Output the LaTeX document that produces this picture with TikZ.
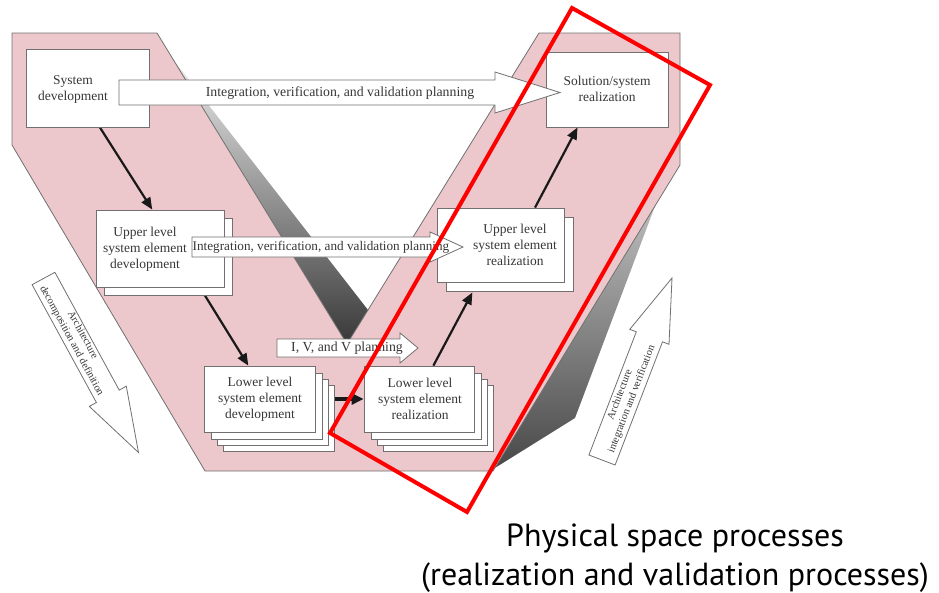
\documentclass[tikz,border=0pt]{standalone}
\usepackage{fontspec}
\setmainfont{Liberation Serif}
\newfontfamily\capfont{PT Sans}
\usetikzlibrary{arrows.meta,shadows,calc}
\pgfdeclarelayer{bg}
\pgfdeclarelayer{mid}
\pgfsetlayers{bg,mid,main}
\definecolor{vpink}{RGB}{236,199,203}
\definecolor{edgegray}{RGB}{112,112,112}
\definecolor{txtgray}{RGB}{55,55,55}
\begin{document}
\begin{tikzpicture}[x=1pt,y=-1pt,
  box/.style={draw=edgegray,fill=white,line width=0.8pt,inner sep=0pt},
  btext/.style={font=\fontsize{13.5}{16}\selectfont,text=txtgray,align=center,inner sep=0pt},
  atext/.style={font=\fontsize{13.8}{15}\selectfont,text=txtgray,inner sep=0pt},
  stext/.style={font=\fontsize{10.5}{12.5}\selectfont,text=txtgray,align=center,inner sep=0pt},
  hollow/.style={draw=edgegray,fill=white,line width=0.8pt,line join=miter},
  flow/.style={draw=black!90,line width=2.2pt,-{Triangle[length=12pt,width=10pt]}},
  bigflow/.style={draw=black!90,line width=3.8pt,-{Triangle[length=12pt,width=11pt]}},
  cshadow/.style={copy shadow={shadow xshift=#1,shadow yshift=-#1,draw=edgegray,fill=white}},
  stackthree/.style={cshadow=19pt,cshadow=13pt,cshadow=7pt},
  captext/.style={font=\capfont\fontsize{32}{39}\selectfont,text=black,anchor=base,inner sep=0pt}
]
\useasboundingbox (0,0) rectangle (939,592);

% background V shape with shadows
\begin{pgfonlayer}{bg}
  \shade[top color=black!8,bottom color=black!78] (172,58) -- (347,344) -- (368,310) -- cycle;
  \shade[top color=black!15,bottom color=black!72] (680,140) -- (575,418) -- (490,471) -- cycle;
  \filldraw[fill=vpink,draw=edgegray,line width=0.8pt,line join=miter]
    (12,33) -- (157,33) -- (347,344) -- (539,33) -- (680,33) -- (680,165)
    -- (493,471) -- (205,471) -- (12,145) -- cycle;
\end{pgfonlayer}

% boxes
\node[box,minimum width=123pt,minimum height=78pt] (sysdev) at (87.5,88) {};
\node[btext] (sysdevtext) at (73,89) {System\\development};

\node[box,minimum width=122pt,minimum height=75pt] (solution) at (607,89.5) {};
\node[btext] (solutiontext) at (607,89) {Solution/system\\realization};

\node[box,cshadow=8pt,minimum width=128pt,minimum height=77pt] (upperdev) at (160,248.5) {};
\node[btext] (upperdevtext) at (145,249) {Upper level\\system element\\development};

\node[box,cshadow=9pt,minimum width=127pt,minimum height=74pt] (upperreal) at (500.5,245) {};
\node[btext] (upperrealtext) at (515,245) {Upper level\\system element\\realization};

\node[box,stackthree,minimum width=111pt,minimum height=66pt] (lowerdev) at (259.5,399) {};
\node[btext] (lowerdevtext) at (260,399) {Lower level\\system element\\development};

\node[box,stackthree,minimum width=110pt,minimum height=66pt] (lowerreal) at (419,399) {};
\node[btext] (lowerrealtext) at (420,399) {Lower level\\system element\\realization};

% connectors
\begin{pgfonlayer}{mid}
  \draw[flow] ($(sysdev.south west)!0.6!(sysdev.south east)$) -- ($(upperdev.north west)!0.44!(upperdev.north east)$);
  \draw[flow] ($(upperdev.south west)!0.81!(upperdev.south east)$) -- ($(lowerdev.north west)!0.40!(lowerdev.north east)$);
  \draw[bigflow] (lowerdev.east) -- (lowerreal.west);
  \draw[flow] ($(lowerreal.north west)!0.63!(lowerreal.north east)$) -- ($(upperreal.south west)!0.28!(upperreal.south east)+(0,10)$);
  \draw[flow] ($(upperreal.north west)!0.77!(upperreal.north east)$) -- ($(solution.south west)!0.26!(solution.south east)$);
\end{pgfonlayer}

% planning arrows
\draw[hollow] (119,80) -- (495,80) -- (495,72) -- (560,92.5) -- (495,113) -- (495,105) -- (119,105) -- cycle;
\node[atext] (plantop) at (340,93) {Integration, verification, and validation planning};

\draw[hollow] (192,237) -- (430,237) -- (430,232) -- (463,247) -- (430,262) -- (430,257) -- (192,257) -- cycle;
\node[atext,font=\fontsize{13.2}{15}\selectfont] (planmid) at (321,247) {Integration, verification, and validation planning};

\draw[hollow] (277,339) -- (400,339) -- (400,333) -- (418,348) -- (400,363) -- (400,357) -- (277,357) -- cycle;
\node[atext] (planlow) at (347,348) {I, V, and V planning};

% side arrows
\draw[hollow] (32.1,284.7) -- (96.4,402.5) -- (89.3,406.4) -- (138.5,452.5) -- (126.3,386.2) -- (119.2,390.1) -- (54.9,272.3) -- cycle;
\node[stext,rotate=-61.4] (decomp) at (77,338) {Architecture\\decomposition and definition};

\draw[hollow] (588.9,455.0) -- (615.1,465.0) -- (662.5,341.8) -- (669.0,344.3) -- (672,278) -- (629.8,329.3) -- (636.3,331.8) -- cycle;
\node[stext,rotate=69] (integ) at (626,397) {Architecture\\integration and verification};

% red highlight
\draw[red,line width=4pt,line join=miter] (572,8) -- (710,85) -- (467,512) -- (330,433) -- cycle;

% caption
\node[captext] (phys1) at (675,546) {Physical space processes};
\node[captext] (phys2) at (675,585) {(realization and validation processes)};
\end{tikzpicture}
\end{document}
